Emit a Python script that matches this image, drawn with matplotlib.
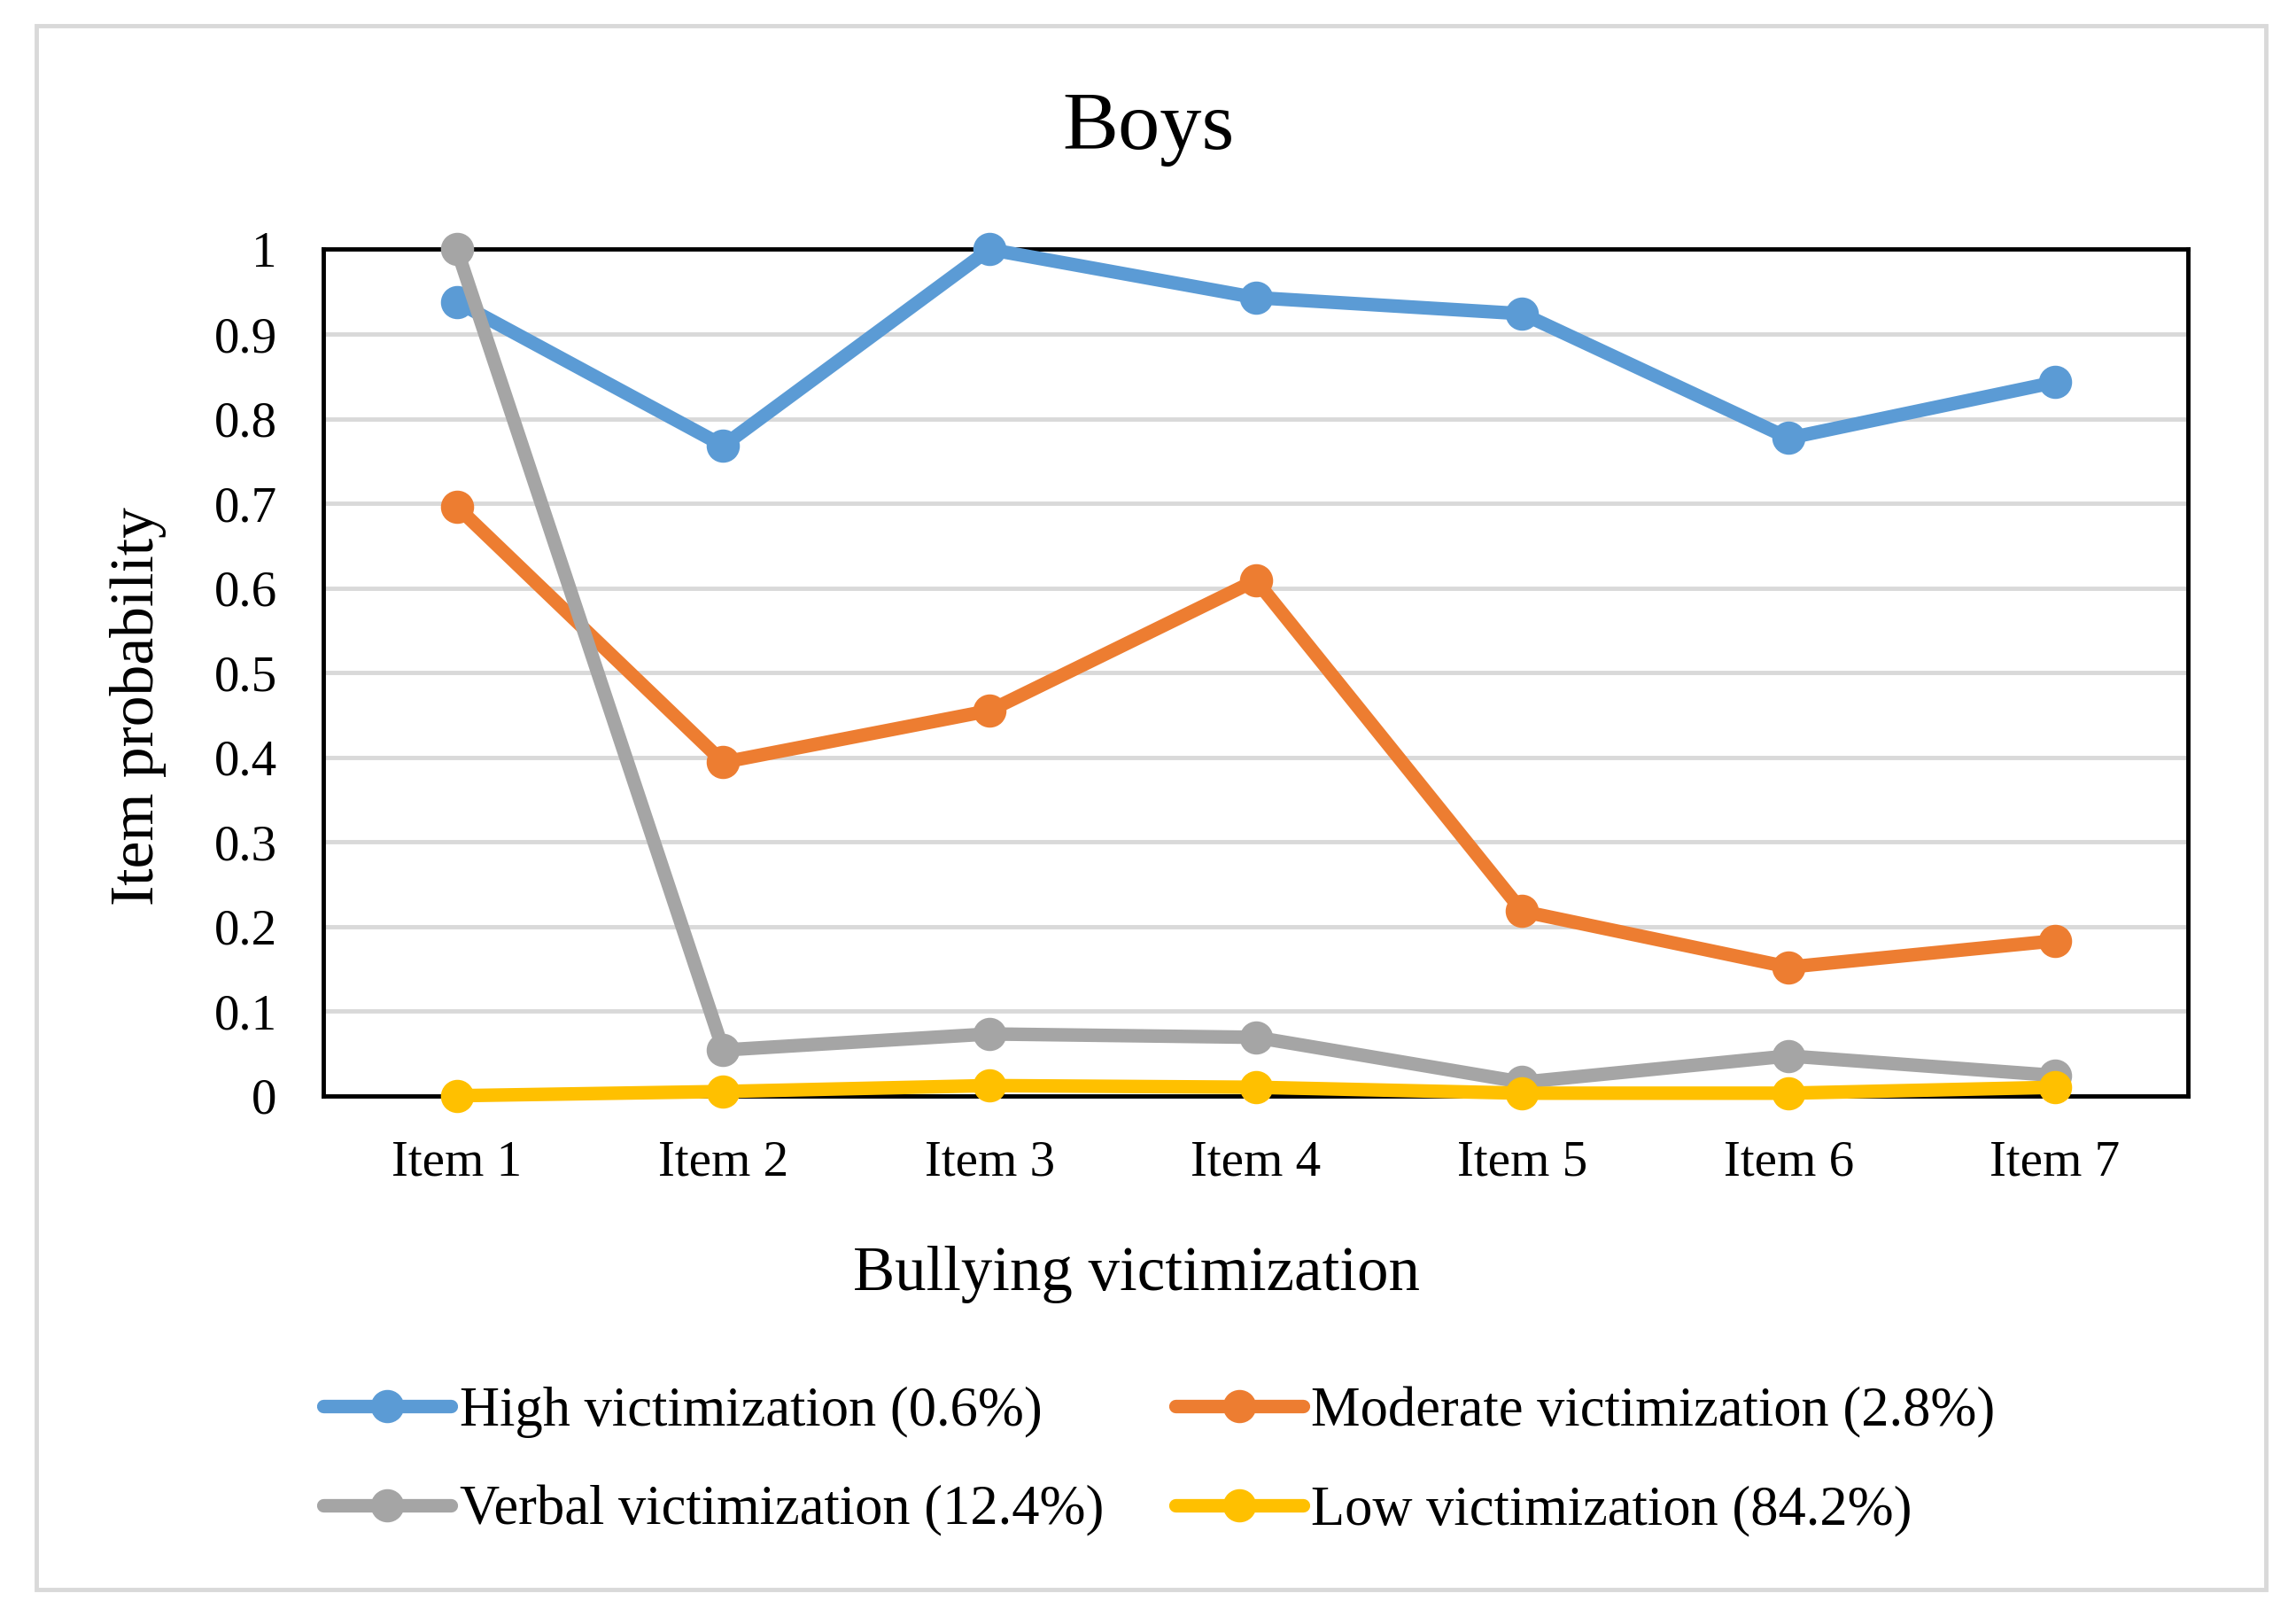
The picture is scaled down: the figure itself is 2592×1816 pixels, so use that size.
import matplotlib.pyplot as plt
import numpy as np
from matplotlib.patches import Rectangle

plt.rcParams['font.family'] = ['Liberation Serif', 'DejaVu Serif']

items = ['Item 1', 'Item 2', 'Item 3', 'Item 4', 'Item 5', 'Item 6', 'Item 7']
high = [0.938, 0.768, 1.0, 0.943, 0.924, 0.777, 0.843]
moderate = [0.696, 0.394, 0.455, 0.609, 0.218, 0.152, 0.183]
verbal = [1.0, 0.054, 0.073, 0.069, 0.016, 0.047, 0.024]
low = [0.0, 0.005, 0.012, 0.010, 0.003, 0.003, 0.010]

labels = ['High victimization (0.6%)', 'Moderate victimization (2.8%)',
          'Verbal victimization (12.4%)', 'Low victimization (84.2%)']
colors = ['#5B9BD5', '#ED7D31', '#A5A5A5', '#FFC000']
yticks = [0, 0.1, 0.2, 0.3, 0.4, 0.5, 0.6, 0.7, 0.8, 0.9, 1]
ytick_labels = ['0', '0.1', '0.2', '0.3', '0.4', '0.5', '0.6', '0.7', '0.8', '0.9', '1']

fig = plt.figure(figsize=(25.92, 18.16), dpi=100)
ax = fig.add_axes([0.141, 0.319, 0.812, 0.526])

# light grey chart border
fig.patches.append(Rectangle((0.016, 0.012), 0.971, 0.972, transform=fig.transFigure,
                             fill=False, edgecolor='#d9d9d9', linewidth=3.5))

x = np.arange(len(items))
lines = []
for series, lab, col in zip([high, moderate, verbal, low], labels, colors):
    ln, = ax.plot(x, series, color=col, linewidth=11, marker='o', markersize=26,
                  label=lab, clip_on=False, zorder=3, solid_capstyle='round')
    lines.append(ln)

ax.set_xlim(-0.5, len(items) - 0.5)
ax.set_ylim(0, 1)
ax.set_yticks(yticks)
ax.set_yticklabels(ytick_labels)
ax.set_xticks(x)
ax.set_xticklabels(items)
ax.tick_params(axis='both', length=0, labelsize=41)
ax.tick_params(axis='y', pad=38)
ax.tick_params(axis='x', pad=36)
ax.grid(axis='y', color='#d9d9d9', linewidth=3.5, zorder=0)
ax.set_axisbelow(True)
for sp in ax.spines.values():
    sp.set_linewidth(3.5)
    sp.set_color('black')

fig.text(0.5, 0.920, 'Boys', fontsize=68, ha='center', va='center')
fig.text(0.495, 0.208, 'Bullying victimization', fontsize=51, ha='center', va='center')
fig.text(0.06, 0.561, 'Item probability', fontsize=50, ha='center', va='center', rotation=90)

# legend filled row by row like the original
order = [0, 2, 1, 3]
fig.legend([lines[i] for i in order], [labels[i] for i in order],
           loc='center', bbox_to_anchor=(0.505, 0.0915), ncol=2, frameon=False,
           fontsize=45, handlelength=2.3, handletextpad=0.15, columnspacing=1.3,
           labelspacing=0.85)

fig.savefig('out.png', dpi=100)
